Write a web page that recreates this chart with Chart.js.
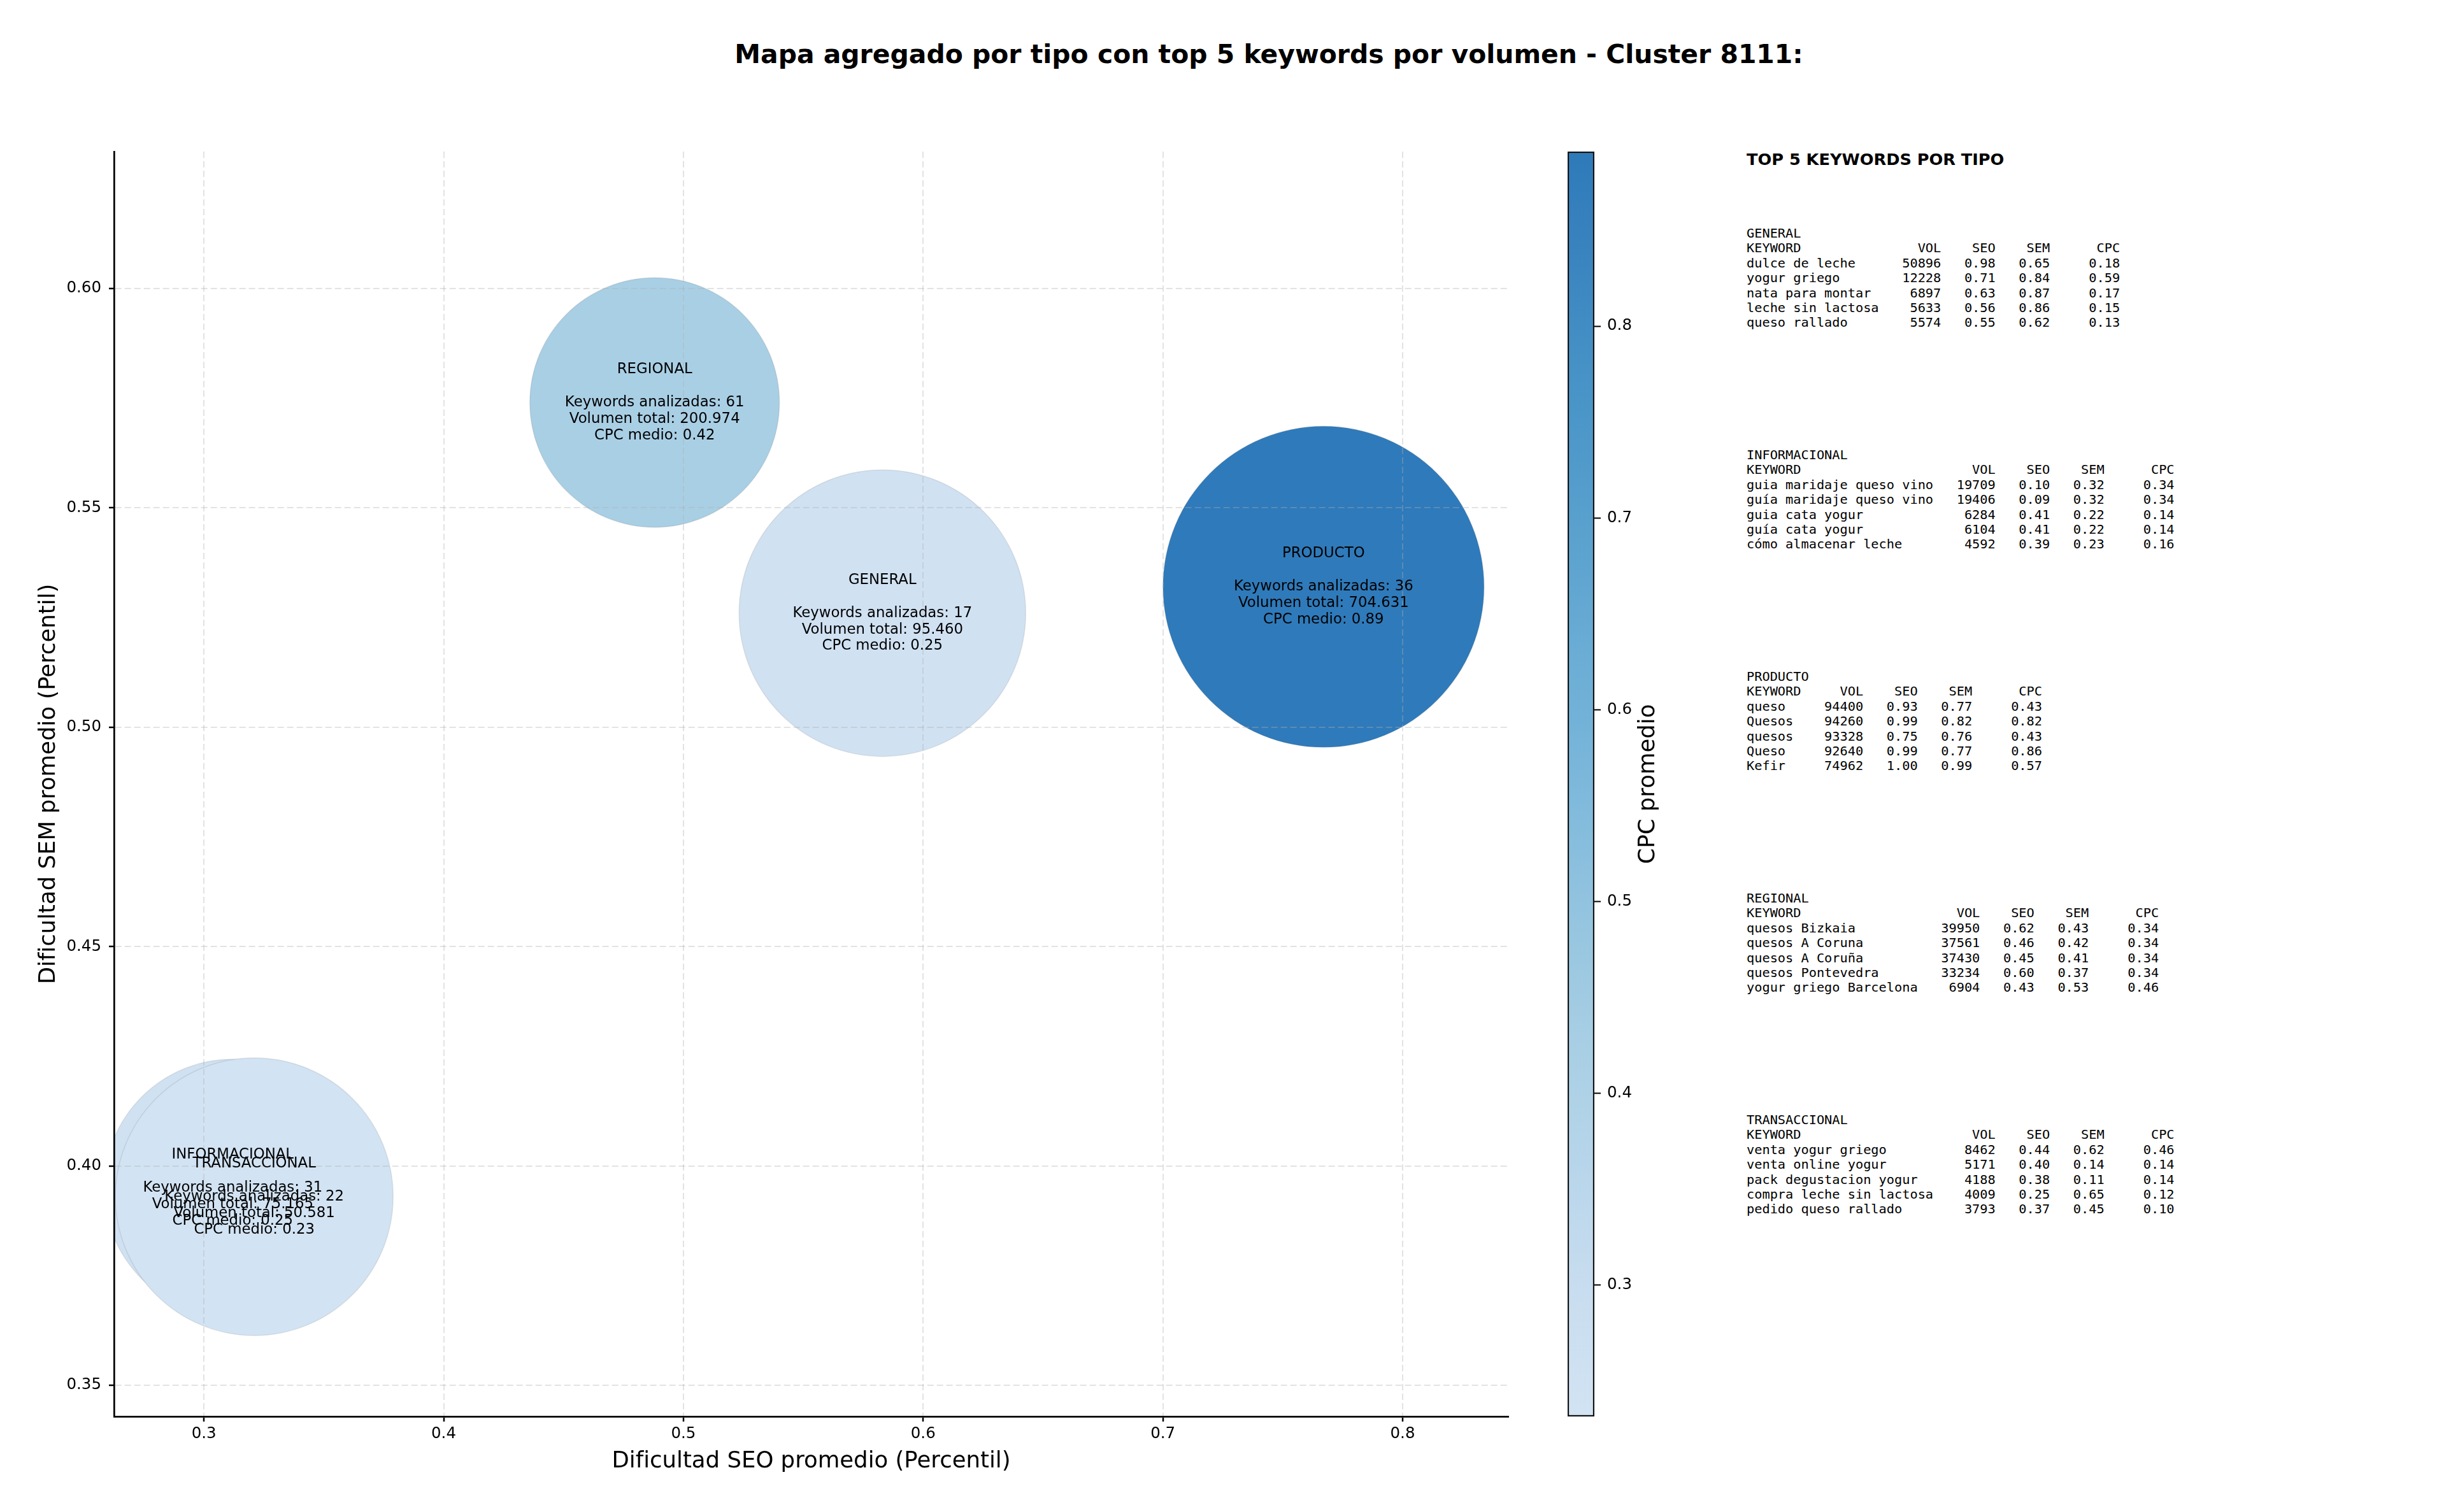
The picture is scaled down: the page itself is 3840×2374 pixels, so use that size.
<!DOCTYPE html>
<html lang="es">
<head>
<meta charset="utf-8">
<title>Mapa agregado por tipo - Cluster 8111</title>
<script src="https://cdn.jsdelivr.net/npm/chart.js@4.4.1/dist/chart.umd.min.js"></script>
<style>
    html, body { margin: 0; padding: 0; background: #fff; }
    #figura { position: relative; width: 3840px; height: 2374px; overflow: hidden; font-family: "DejaVu Sans", sans-serif; color: #000; }
    #titulo { position: absolute; left: 1992px; top: 85px; transform: translate(-50%, -50%); font-weight: bold; font-size: 40.9px; white-space: nowrap; }
    #mapa { position: absolute; left: 0; top: 0; }
    #barra { position: absolute; left: 2461px; top: 0; }
    #tablaTitulo { position: absolute; left: 2742px; top: 250px; transform: translateY(-50%); font-weight: bold; font-size: 25.6px; white-space: nowrap; }
    .bloque { position: absolute; left: 2742px; margin: 0; font-family: "DejaVu Sans Mono", monospace; font-size: 20.3px; line-height: 23.4px; white-space: pre; }
</style>
</head>
<body>
<div id="figura">
    <div id="titulo">Mapa agregado por tipo con top 5 keywords por volumen - Cluster 8111:</div>
    <canvas id="mapa" width="2420" height="2374"></canvas>
    <canvas id="barra" width="160" height="2374"></canvas>
    <div id="tablaTitulo">TOP 5 KEYWORDS POR TIPO</div>
    <div id="tabla"></div>
</div>
<script>
// datos agregados por tipo
const tipos = ['GENERAL', 'INFORMACIONAL', 'PRODUCTO', 'REGIONAL', 'TRANSACCIONAL'];
const seoPromedio = [0.583, 0.312, 0.767, 0.488, 0.321];
const semPromedio = [0.526, 0.395, 0.532, 0.574, 0.393];
const keywordsAnalizadas = [17, 31, 36, 61, 22];
const volumenTotal = [95460, 75165, 704631, 200974, 50581];
const cpcMedio = [0.25, 0.25, 0.89, 0.42, 0.23];
// tamaño del marcador de cada burbuja (radio)
const radioBurbuja = [225, 202, 252, 196, 218];

const ticksX = [0.3, 0.4, 0.5, 0.6, 0.7, 0.8];
const ticksY = [0.35, 0.40, 0.45, 0.50, 0.55, 0.60];
const ticksCPC = [0.3, 0.4, 0.5, 0.6, 0.7, 0.8];
const rangoX = [0.2625, 0.8441];
const rangoY = [0.3429, 0.6312];
const rangoCPC = [0.2315, 0.891];

// top 5 keywords: [keyword, vol, seo, sem, cpc]
const topGeneral = [
    ['dulce de leche', 50896, 0.98, 0.65, 0.18],
    ['yogur griego', 12228, 0.71, 0.84, 0.59],
    ['nata para montar', 6897, 0.63, 0.87, 0.17],
    ['leche sin lactosa', 5633, 0.56, 0.86, 0.15],
    ['queso rallado', 5574, 0.55, 0.62, 0.13]
];
const topInformacional = [
    ['guia maridaje queso vino', 19709, 0.10, 0.32, 0.34],
    ['guía maridaje queso vino', 19406, 0.09, 0.32, 0.34],
    ['guia cata yogur', 6284, 0.41, 0.22, 0.14],
    ['guía cata yogur', 6104, 0.41, 0.22, 0.14],
    ['cómo almacenar leche', 4592, 0.39, 0.23, 0.16]
];
const topProducto = [
    ['queso', 94400, 0.93, 0.77, 0.43],
    ['Quesos', 94260, 0.99, 0.82, 0.82],
    ['quesos', 93328, 0.75, 0.76, 0.43],
    ['Queso', 92640, 0.99, 0.77, 0.86],
    ['Kefir', 74962, 1.00, 0.99, 0.57]
];
const topRegional = [
    ['quesos Bizkaia', 39950, 0.62, 0.43, 0.34],
    ['quesos A Coruna', 37561, 0.46, 0.42, 0.34],
    ['quesos A Coruña', 37430, 0.45, 0.41, 0.34],
    ['quesos Pontevedra', 33234, 0.60, 0.37, 0.34],
    ['yogur griego Barcelona', 6904, 0.43, 0.53, 0.46]
];
const topTransaccional = [
    ['venta yogur griego', 8462, 0.44, 0.62, 0.46],
    ['venta online yogur', 5171, 0.40, 0.14, 0.14],
    ['pack degustacion yogur', 4188, 0.38, 0.11, 0.14],
    ['compra leche sin lactosa', 4009, 0.25, 0.65, 0.12],
    ['pedido queso rallado', 3793, 0.37, 0.45, 0.10]
];

Chart.defaults.font.family = '"DejaVu Sans", sans-serif';
Chart.defaults.color = '#000';

// paleta Blues (matplotlib), recortada al tramo claro-medio
const blues = [[247,251,255],[222,235,247],[198,219,239],[158,202,225],[107,174,214],[66,146,198],[33,113,181],[8,81,156],[8,48,107]];

function colorCPC(v) {
    const t = Math.min(1, Math.max(0, (v - rangoCPC[0]) / (rangoCPC[1] - rangoCPC[0])));
    const p = (0.2 + 0.55 * t) * 8;
    const i = Math.min(7, Math.floor(p));
    const f = p - i;
    // mezcla ligera con blanco (alpha del scatter)
    const c = blues[i].map((a, k) => Math.round((a + (blues[i + 1][k] - a) * f) * 0.94 + 255 * 0.06));
    return `rgb(${c[0]}, ${c[1]}, ${c[2]})`;
}

function miles(n) {
    return String(n).replace(/\B(?=(\d{3})+(?!\d))/g, '.');
}

const etiquetasBurbujas = {
    id: 'etiquetasBurbujas',
    afterDraw(chart) {
        const { ctx, scales: { x, y } } = chart;
        const lh = 25.9;
        ctx.save();
        ctx.font = '22.8px "DejaVu Sans"';
        ctx.fillStyle = '#000';
        ctx.textAlign = 'center';
        ctx.textBaseline = 'middle';
        tipos.forEach((tipo, i) => {
            const lineas = [
                tipo,
                '',
                `Keywords analizadas: ${keywordsAnalizadas[i]}`,
                `Volumen total: ${miles(volumenTotal[i])}`,
                `CPC medio: ${cpcMedio[i].toFixed(2)}`
            ];
            const cx = x.getPixelForValue(seoPromedio[i]);
            const cy = y.getPixelForValue(semPromedio[i]);
            lineas.forEach((l, j) => ctx.fillText(l, cx, cy + (j - 2) * lh));
        });
        ctx.restore();
    }
};

const gridComun = {
    color: 'rgba(176, 176, 176, 0.35)',
    lineWidth: 2,
    z: 1,
    tickLength: 8,
    tickColor: '#000',
    tickWidth: 2.5,
    tickBorderDash: []
};
const bordeComun = { display: true, color: '#000', width: 2.7, dash: [10, 5], z: 1 };

new Chart(document.getElementById('mapa'), {
    type: 'bubble',
    data: {
        datasets: [{
            data: tipos.map((t, i) => ({ x: seoPromedio[i], y: semPromedio[i], r: radioBurbuja[i] })),
            backgroundColor: cpcMedio.map(colorCPC),
            borderColor: 'rgba(90, 90, 90, 0.14)',
            borderWidth: 1.5,
            hoverRadius: 0,
            clip: 0
        }]
    },
    options: {
        responsive: false,
        animation: false,
        events: [],
        layout: { autoPadding: false, padding: { top: 238, right: 52, bottom: 0, left: 0 } },
        plugins: {
            legend: { display: false },
            tooltip: { enabled: false }
        },
        scales: {
            x: {
                type: 'linear',
                min: rangoX[0],
                max: rangoX[1],
                afterBuildTicks: s => { s.ticks = ticksX.map(v => ({ value: v })); },
                afterFit: s => { s.height = 150; },
                grid: gridComun,
                border: bordeComun,
                ticks: { callback: v => v.toFixed(1), padding: 5, font: { size: 24.5 }, maxRotation: 0, z: 1 },
                title: { display: true, text: 'Dificultad SEO promedio (Percentil)', font: { size: 35.5 }, padding: { top: 0, bottom: 58 } }
            },
            y: {
                type: 'linear',
                min: rangoY[0],
                max: rangoY[1],
                afterBuildTicks: s => { s.ticks = ticksY.map(v => ({ value: v })); },
                afterFit: s => { s.width = 179; },
                grid: gridComun,
                border: bordeComun,
                ticks: { callback: v => v.toFixed(2), padding: 12, font: { size: 24.5 }, z: 1 },
                title: { display: true, text: 'Dificultad SEM promedio (Percentil)', font: { size: 35.5 }, padding: { top: 55, bottom: 0 } }
            }
        }
    },
    plugins: [etiquetasBurbujas]
});

// barra de color del CPC
function gradienteCPC(chart) {
    const area = chart.chartArea;
    if (!area) return colorCPC(rangoCPC[0]);
    const g = chart.ctx.createLinearGradient(0, area.bottom, 0, area.top);
    for (let k = 0; k <= 20; k++) {
        g.addColorStop(k / 20, colorCPC(rangoCPC[0] + (rangoCPC[1] - rangoCPC[0]) * k / 20));
    }
    return g;
}

const tituloBarra = {
    id: 'tituloBarra',
    afterDraw(chart) {
        const { ctx, chartArea } = chart;
        ctx.save();
        ctx.font = '35.5px "DejaVu Sans"';
        ctx.fillStyle = '#000';
        ctx.textAlign = 'center';
        ctx.textBaseline = 'middle';
        ctx.translate(chartArea.right + 85, (chartArea.top + chartArea.bottom) / 2);
        ctx.rotate(-Math.PI / 2);
        ctx.fillText('CPC promedio', 0, 0);
        ctx.restore();
    }
};

new Chart(document.getElementById('barra'), {
    type: 'bar',
    data: {
        labels: ['CPC'],
        datasets: [{
            data: [rangoCPC],
            backgroundColor: ctx => gradienteCPC(ctx.chart),
            borderColor: '#111',
            borderWidth: 2.5,
            borderSkipped: false,
            barPercentage: 1,
            categoryPercentage: 1
        }]
    },
    options: {
        responsive: false,
        animation: false,
        events: [],
        layout: { autoPadding: false, padding: { top: 238, bottom: 150, left: 0, right: 0 } },
        plugins: {
            legend: { display: false },
            tooltip: { enabled: false }
        },
        scales: {
            x: { display: false },
            y: {
                position: 'right',
                min: rangoCPC[0],
                max: rangoCPC[1],
                afterBuildTicks: s => { s.ticks = ticksCPC.map(v => ({ value: v })); },
                afterFit: s => { s.width = 118; },
                grid: { drawOnChartArea: false, drawTicks: true, tickLength: 10, tickColor: '#000', tickWidth: 2 },
                border: { display: false },
                ticks: { callback: v => v.toFixed(1), padding: 10, font: { size: 24.5 } }
            }
        }
    },
    plugins: [tituloBarra]
});

// tabla de top keywords por tipo
const bloques = [
    ['GENERAL', topGeneral],
    ['INFORMACIONAL', topInformacional],
    ['PRODUCTO', topProducto],
    ['REGIONAL', topRegional],
    ['TRANSACCIONAL', topTransaccional]
];
const tabla = document.getElementById('tabla');
bloques.forEach(([nombre, filas], i) => {
    const w = Math.max(7, ...filas.map(f => f[0].length)) + 2;
    const lineas = [nombre, 'KEYWORD'.padEnd(w) + 'VOL'.padStart(6) + 'SEO'.padStart(7) + 'SEM'.padStart(7) + 'CPC'.padStart(9)];
    filas.forEach(f => {
        lineas.push(f[0].padEnd(w) + String(f[1]).padStart(6) + f[2].toFixed(2).padStart(7) +
            f[3].toFixed(2).padStart(7) + f[4].toFixed(2).padStart(9));
    });
    const pre = document.createElement('pre');
    pre.className = 'bloque';
    pre.style.top = (355 + i * 348) + 'px';
    pre.textContent = lineas.join('\n');
    tabla.appendChild(pre);
});
</script>
</body>
</html>
